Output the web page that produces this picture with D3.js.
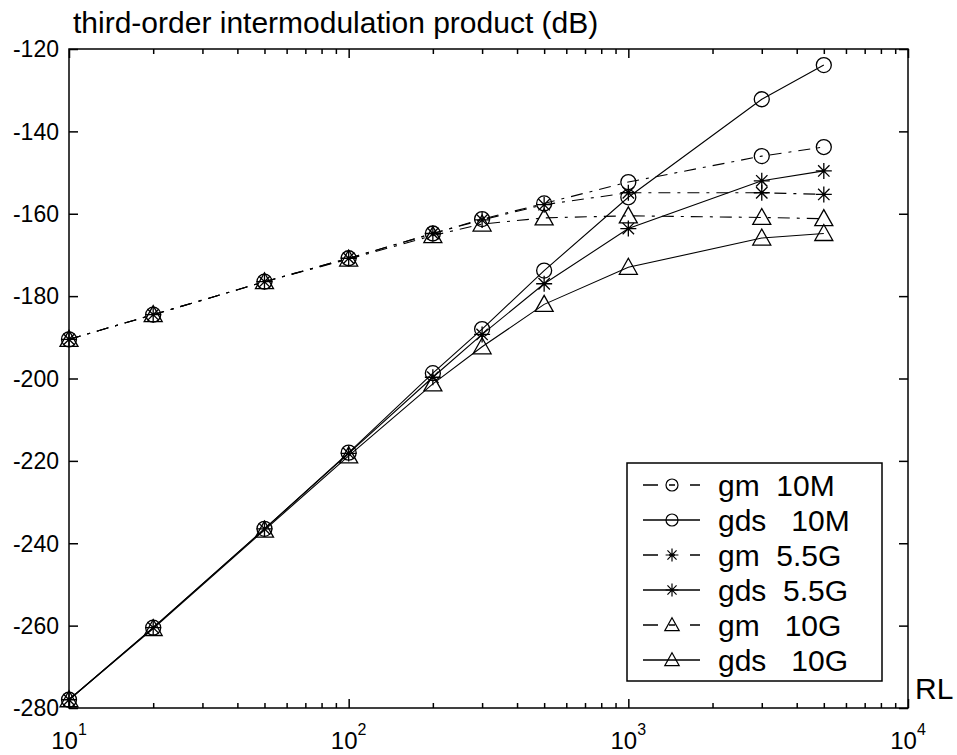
<!DOCTYPE html>
<html>
<head>
<meta charset="utf-8">
<script src="https://cdn.jsdelivr.net/npm/d3@7"></script>
<style>
  html, body { margin: 0; padding: 0; background: #fff; }
  svg { display: block; font-family: "Liberation Sans", Arial, sans-serif; }
  text { fill: #000; }
</style>
</head>
<body>
<svg id="chart" width="957" height="755"></svg>
<script>
// Load resistance RL (ohm)
const rl = [10, 20, 50, 100, 200, 300, 500, 1000, 3000, 5000];

// Third-order intermodulation product (dB) for each case
const gm10M   = [-190.5, -184.5, -176.5, -170.8, -164.8, -161.3, -157.5, -152.3, -146, -143.8];
const gds10M  = [-278, -260.5, -236.5, -218, -198.7, -188, -173.8, -156, -132.2, -123.9];
const gm55G   = [-190.5, -184.5, -176.5, -170.8, -164.8, -161.5, -157.8, -154.9, -154.9, -155.3];
const gds55G  = [-278, -260.5, -236.5, -218.2, -199.7, -189.3, -177, -163.6, -152, -149.6];
const gm10G   = [-190.5, -184.5, -176.5, -171, -165.3, -162.5, -161, -160.5, -160.9, -161.2];
const gds10G  = [-278, -260.7, -236.8, -218.8, -201.3, -192.3, -182, -173, -165.9, -164.8];

const seriesNames = ["gm  10M", "gds   10M", "gm  5.5G", "gds  5.5G", "gm   10G", "gds   10G"];
const seriesValues = [gm10M, gds10M, gm55G, gds55G, gm10G, gds10G];
const seriesMarkers = ["circle", "circle", "star", "star", "triangle", "triangle"];
const seriesDashed = [true, false, true, false, true, false];

const yTicks = [-280, -260, -240, -220, -200, -180, -160, -140, -120];
const xMajorTicks = [10, 100, 1000, 10000];
const xTickExponents = ["1", "2", "3", "4"];
const yTitle = "third-order intermodulation product (dB)";
const xTitle = "RL";

const svg = d3.select("#chart");
const L = 69, R = 908, T = 49, B = 708;

const x = d3.scaleLog().domain([10, 10000]).range([L, R]);
const y = d3.scaleLinear().domain([-280, -120]).range([B, T]);

const dashPattern = "12,7,3,7";

// minor ticks of the log axis
const xMinor = [];
[10, 100, 1000].forEach(d => { for (let k = 2; k <= 9; k++) xMinor.push(d * k); });

const axesG = svg.append("g").attr("class", "axes");

function styleAxis(g) {
  g.select(".domain").remove();
  g.selectAll(".tick line").attr("stroke", "#000").attr("stroke-width", 1.5);
}

// bottom & top: major ticks
axesG.append("g").attr("transform", `translate(0,${B})`)
  .call(d3.axisBottom(x).tickValues(xMajorTicks).tickSize(-9).tickFormat(""))
  .call(styleAxis);
axesG.append("g").attr("transform", `translate(0,${T})`)
  .call(d3.axisTop(x).tickValues(xMajorTicks).tickSize(-9).tickFormat(""))
  .call(styleAxis);
// bottom & top: minor ticks
axesG.append("g").attr("transform", `translate(0,${B})`)
  .call(d3.axisBottom(x).tickValues(xMinor).tickSize(-5).tickFormat(""))
  .call(styleAxis);
axesG.append("g").attr("transform", `translate(0,${T})`)
  .call(d3.axisTop(x).tickValues(xMinor).tickSize(-5).tickFormat(""))
  .call(styleAxis);
// left & right
axesG.append("g").attr("transform", `translate(${L},0)`)
  .call(d3.axisLeft(y).tickValues(yTicks).tickSize(-9).tickFormat(""))
  .call(styleAxis);
axesG.append("g").attr("transform", `translate(${R},0)`)
  .call(d3.axisRight(y).tickValues(yTicks).tickSize(-9).tickFormat(""))
  .call(styleAxis);

// frame
axesG.append("rect")
  .attr("x", L).attr("y", T).attr("width", R - L).attr("height", B - T)
  .attr("fill", "none").attr("stroke", "#000").attr("stroke-width", 1.5);

// y tick labels
svg.append("g").selectAll("text").data(yTicks).join("text")
  .attr("x", L - 10)
  .attr("y", d => y(d))
  .attr("dy", "0.36em")
  .attr("text-anchor", "end")
  .attr("font-size", 23)
  .text(d => String(d));

// x tick labels: 10 with exponent
const xl = svg.append("g").selectAll("text").data(xMajorTicks).join("text")
  .attr("x", d => x(d))
  .attr("y", 749)
  .attr("text-anchor", "middle")
  .attr("font-size", 24);
xl.append("tspan").text("10");
xl.append("tspan").attr("font-size", 16).attr("dy", -14).text((d, i) => xTickExponents[i]);

// axis titles
svg.append("text").attr("x", 73).attr("y", 33).attr("font-size", 30).text(yTitle);
svg.append("text").attr("x", 915).attr("y", 699).attr("font-size", 30).text(xTitle);

// marker shapes
function markerPath(kind) {
  if (kind === "circle") {
    const r = 7.5;
    return `M${-r},0a${r},${r} 0 1,0 ${2 * r},0a${r},${r} 0 1,0 ${-2 * r},0Z`;
  }
  if (kind === "star") {
    const a = 8, b = 5.7;
    return `M${-a},0H${a}M0,${-a}V${a}M${-b},${-b}L${b},${b}M${-b},${b}L${b},${-b}`;
  }
  return "M0,-9L9,7L-9,7Z";
}

const line = d3.line().x(d => x(d[0])).y(d => y(d[1]));
const plotG = svg.append("g");

seriesValues.forEach((vals, i) => {
  const pts = rl.map((r, j) => [r, vals[j]]);
  plotG.append("path")
    .datum(pts)
    .attr("d", line)
    .attr("fill", "none")
    .attr("stroke", "#000")
    .attr("stroke-width", 1.1)
    .attr("stroke-dasharray", seriesDashed[i] ? dashPattern : null);
  plotG.append("g").selectAll("path").data(pts).join("path")
    .attr("transform", d => `translate(${x(d[0])},${y(d[1])})`)
    .attr("d", markerPath(seriesMarkers[i]))
    .attr("fill", "none")
    .attr("stroke", "#000")
    .attr("stroke-width", 1.3);
});

// legend
const lg = svg.append("g");
lg.append("rect")
  .attr("x", 627).attr("y", 463).attr("width", 255).attr("height", 218)
  .attr("fill", "#fff").attr("stroke", "#000").attr("stroke-width", 1.5);
seriesNames.forEach((name, i) => {
  const cy = 485 + i * 35;
  const row = lg.append("g").attr("transform", `translate(0,${cy})`);
  if (seriesDashed[i]) {
    row.append("path").attr("d", "M643,0H658M669,0H675M690,0H700")
      .attr("stroke", "#000").attr("stroke-width", 1.3);
  } else {
    row.append("path").attr("d", "M643,0H700")
      .attr("stroke", "#000").attr("stroke-width", 1.3);
  }
  row.append("path")
    .attr("transform", "translate(672,0) scale(0.8)")
    .attr("d", markerPath(seriesMarkers[i]))
    .attr("fill", "none")
    .attr("stroke", "#000").attr("stroke-width", 1.5);
  row.append("text")
    .attr("x", 718).attr("y", 0).attr("dy", "0.35em")
    .attr("font-size", 30)
    .style("white-space", "pre")
    .attr("xml:space", "preserve")
    .text(name);
});
</script>
</body>
</html>
